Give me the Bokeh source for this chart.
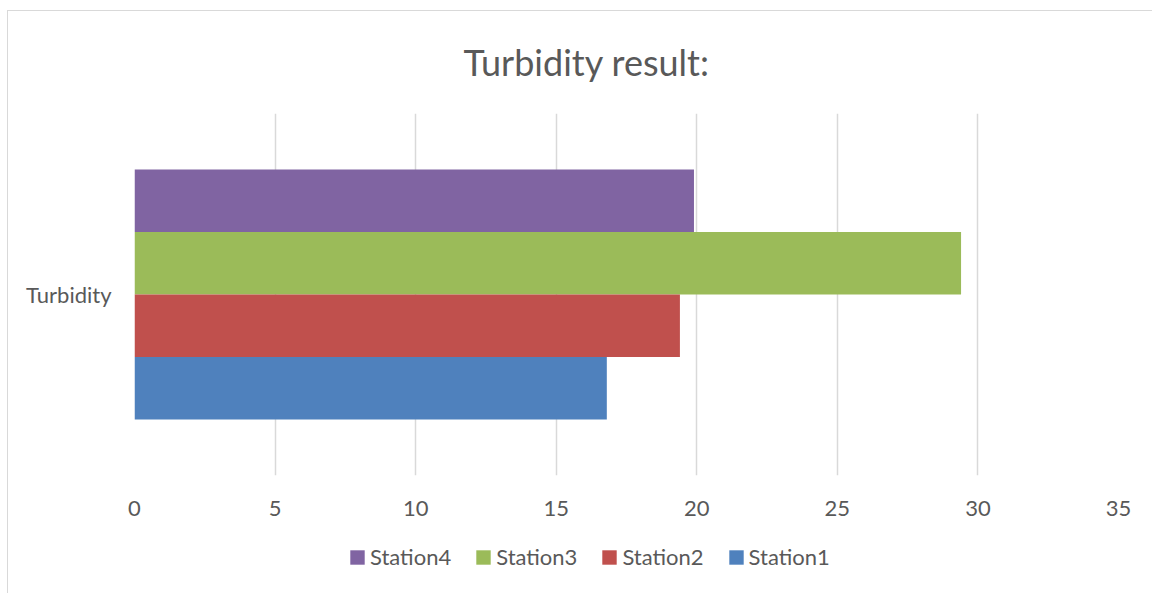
from bokeh.plotting import figure
from bokeh.models import ColumnDataSource, Legend, LegendItem, FactorRange, Range1d, Title
from bokeh.transform import dodge
from bokeh.layouts import column
from bokeh.embed import file_html
from bokeh.resources import INLINE

# ---- data ----
categories = ["Turbidity"]
series_names = ["Station4", "Station3", "Station2", "Station1"]
series_values = [[19.9], [29.4], [19.4], [16.8]]
series_colors = ["#8064A2", "#9BBB59", "#C0504D", "#4F81BD"]
x_ticks = [0, 5, 10, 15, 20, 25, 30, 35]

FONT = "Lato"
TXT = "#595959"

p = figure(width=1144, height=519, output_backend="svg", toolbar_location=None,
           y_range=FactorRange(*categories), x_range=Range1d(0, 35),
           min_border_left=126, min_border_right=34, min_border_top=99, min_border_bottom=55)

# separate strip for the legend (below the main chart)
lg = figure(width=1144, height=63, output_backend="svg", toolbar_location=None,
            y_range=FactorRange(*categories), x_range=Range1d(-1001, -1000),
            min_border_left=0, min_border_right=0, min_border_top=0, min_border_bottom=0)
lg.axis.visible = False
lg.grid.visible = False
lg.outline_line_color = None

bar_h = 0.1726
offsets = [1.5 * bar_h, 0.5 * bar_h, -0.5 * bar_h, -1.5 * bar_h]
items = []
for name, vals, col, off in zip(series_names, series_values, series_colors, offsets):
    src = ColumnDataSource(dict(cat=categories, val=vals))
    p.hbar(y=dodge("cat", off, range=p.y_range), right="val", left=0, height=bar_h,
           source=src, fill_color=col, line_color=None)
    # legend proxy (same data, outside the strip's visible range)
    r = lg.hbar(y=dodge("cat", off, range=lg.y_range), right="val", left=0, height=0,
                source=src, fill_color=col, line_color=None)
    items.append(LegendItem(label=name, renderers=[r]))

p.outline_line_color = None
p.ygrid.grid_line_color = None
p.xgrid.grid_line_color = "#d9d9d9"
p.xgrid.grid_line_width = 1.5
p.xaxis.ticker = x_ticks
p.xaxis.axis_line_color = None
p.xaxis.major_tick_line_color = None
p.xaxis.minor_tick_line_color = None
p.xaxis.major_label_standoff = 19
p.xaxis.major_label_text_font = FONT
p.xaxis.major_label_text_font_size = "22px"
p.xaxis.major_label_text_color = TXT

p.yaxis.axis_line_color = None
p.yaxis.major_tick_line_color = None
p.yaxis.major_label_standoff = 17
p.yaxis.major_label_text_font = FONT
p.yaxis.major_label_text_font_size = "22px"
p.yaxis.major_label_text_color = TXT

t = Title(text="Turbidity result:", align="left", offset=329, text_font=FONT,
          text_font_size="36px", text_color=TXT, text_font_style="normal", standoff=56,
          vertical_align="top")
p.add_layout(t, "above")

legend = Legend(items=items, orientation="horizontal", location=(214, 23),
                label_text_font=FONT, label_text_font_size="22px", label_text_color=TXT,
                glyph_width=18, glyph_height=18, spacing=23, label_standoff=4,
                border_line_color=None, background_fill_alpha=0, margin=0, padding=0)
lg.add_layout(legend, "center")

layout = column(p, lg, spacing=0)
layout.styles = {"border-left": "1px solid #d9d9d9", "border-top": "1px solid #d9d9d9",
                 "margin-left": "7px", "margin-top": "10px"}
open("out.html", "w").write(file_html(layout, INLINE))
